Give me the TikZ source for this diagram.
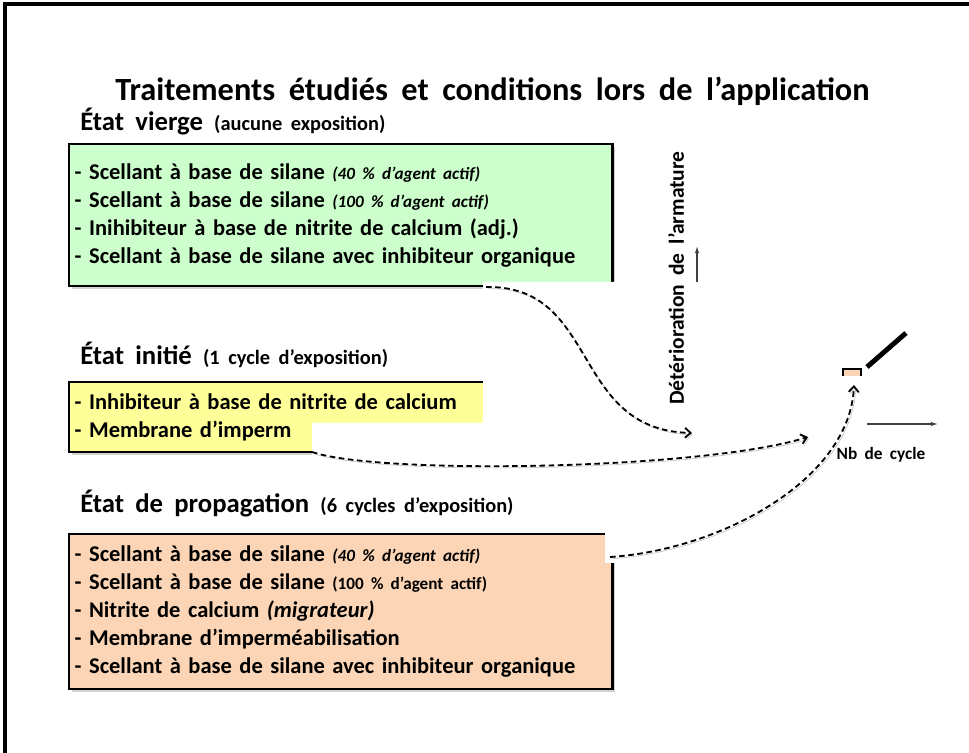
\documentclass[tikz,border=0pt]{standalone}
\usepackage{fontspec}
\setmainfont{Carlito}
\usetikzlibrary{shadows,arrows.meta}

\definecolor{vierge}{HTML}{CCFFCC}
\definecolor{initie}{HTML}{FFFF99}
\definecolor{propag}{HTML}{FBD5B5}

% espaces un peu plus larges, comme sur la diapositive
\newcommand{\mots}{\spaceskip=0.42em plus 0.1em minus 0.05em\relax}
\newcommand{\petit}{\fontsize{14.5}{17}\selectfont\mots}
\newcommand{\note}{\fontsize{12.2}{15}\selectfont\mots}

\tikzset{
  titre/.style={anchor=base west, inner sep=0, font=\bfseries\fontsize{23}{27}\selectfont\mots},
  etat/.style={anchor=base west, inner sep=0, font=\bfseries\fontsize{19}{22}\selectfont\mots},
  liste/.style={rectangle, draw=black, line width=1.6pt, anchor=north west, align=left,
                inner xsep=4pt, inner ysep=5pt, font=\bfseries\fontsize{16}{19.9}\selectfont\mots,
                minimum width=13.55cm, text width=13.3cm,
                drop shadow={shadow xshift=2pt, shadow yshift=-2pt, opacity=0.35}},
  lien/.style={dash pattern=on 4pt off 2.5pt, line width=1.3pt,
               -{Straight Barb[length=4pt,width=7pt]},
               preaction={draw=black!25, transform canvas={xshift=1.2pt, yshift=-1.2pt}}},
  axe/.style={draw=black!75, line width=0.8pt, -{Latex[length=5pt,width=3pt]}},
}

\begin{document}
\begin{tikzpicture}[x=0.025cm, y=-0.025cm]
  \useasboundingbox (0,0) rectangle (969,753);
  % cadre de la diapositive
  \draw[line width=2.2pt] (5,4) rectangle (990,780);

  \node (titre) [titre] at (115,101) {Traitements étudiés et conditions lors de l’application};

  % les trois etats
  \node (hVierge) [etat] at (80,131) {État vierge {\petit(aucune exposition)}};
  \node (bVierge) [liste, fill=vierge, minimum height=3.55cm] at (68,143)
    {- Scellant à base de silane {\note\itshape(40 \% d’agent actif)}\\
     - Scellant à base de silane {\note\itshape(100 \% d’agent actif)}\\
     - Inihibiteur à base de nitrite de calcium (adj.)\\
     - Scellant à base de silane avec inhibiteur organique\\[4pt]};

  \node (hInitie) [etat] at (80,365) {État initié {\petit(1 cycle d’exposition)}};
  \node (bInitie) [liste, fill=initie, minimum height=1.75cm] at (68,381)
    {- Inhibiteur à base de nitrite de calcium\\
     - Membrane d’imperm};

  \node (hPropag) [etat] at (80,513) {État de propagation {\petit(6 cycles d’exposition)}};
  \node (bPropag) [liste, fill=propag, minimum height=3.87cm] at (68,533)
    {- Scellant à base de silane {\note\itshape(40 \% d’agent actif)}\\
     - Scellant à base de silane {\note(100 \% d’agent actif)}\\
     - Nitrite de calcium {\itshape(migrateur)}\\
     - Membrane d’imperméabilisation\\
     - Scellant à base de silane avec inhibiteur organique};

  % zone du graphique posee par-dessus
  \fill[white] (483,282) -- (990,282) -- (990,563) -- (605,563) -- (605,470)
               -- (298,470) -- (298,456) -- (312,456) -- (312,423) -- (483,423) -- cycle;

  % restes du graphique
  \coordinate (oy) at (697,282);
  \coordinate (ty) at (697,246);
  \draw[axe] (oy) -- (ty);
  \coordinate (ox) at (867,424);
  \coordinate (tx) at (938,424);
  \draw[axe] (ox) -- (tx);
  \node (ylab) [rotate=90, inner sep=0, font=\bfseries\fontsize{15.3}{17}\selectfont\mots]
        at (676,278) {Détérioration de l’armature};
  \node (xlab) [inner sep=0, font=\bfseries\fontsize{12.3}{14}\selectfont\mots]
        at (881,455) {Nb de cycle};
  \fill[propag, draw=black, line width=1pt] (843,376) -- (843,369) -- (861,369) -- (861,376);
  \coordinate (c1) at (867,367);
  \coordinate (c2) at (906,333);
  \draw[line width=3.5pt] (c1) -- (c2);

  % liens vers le graphique
  \coordinate (dVierge) at (486,287);
  \coordinate (fVierge) at (692,433);
  \coordinate (dInitie) at (312,452);
  \coordinate (fInitie) at (808,437);
  \coordinate (dPropag) at (610,557);
  \coordinate (fPropag) at (854,385);
  \draw[lien] (dVierge) .. controls (600,285) and (570,430) .. (fVierge);
  \draw[lien] (dInitie) .. controls (380,475) and (700,470) .. (fInitie);
  \draw[lien] (dPropag) .. controls (720,550) and (850,480) .. (fPropag);
\end{tikzpicture}
\end{document}
